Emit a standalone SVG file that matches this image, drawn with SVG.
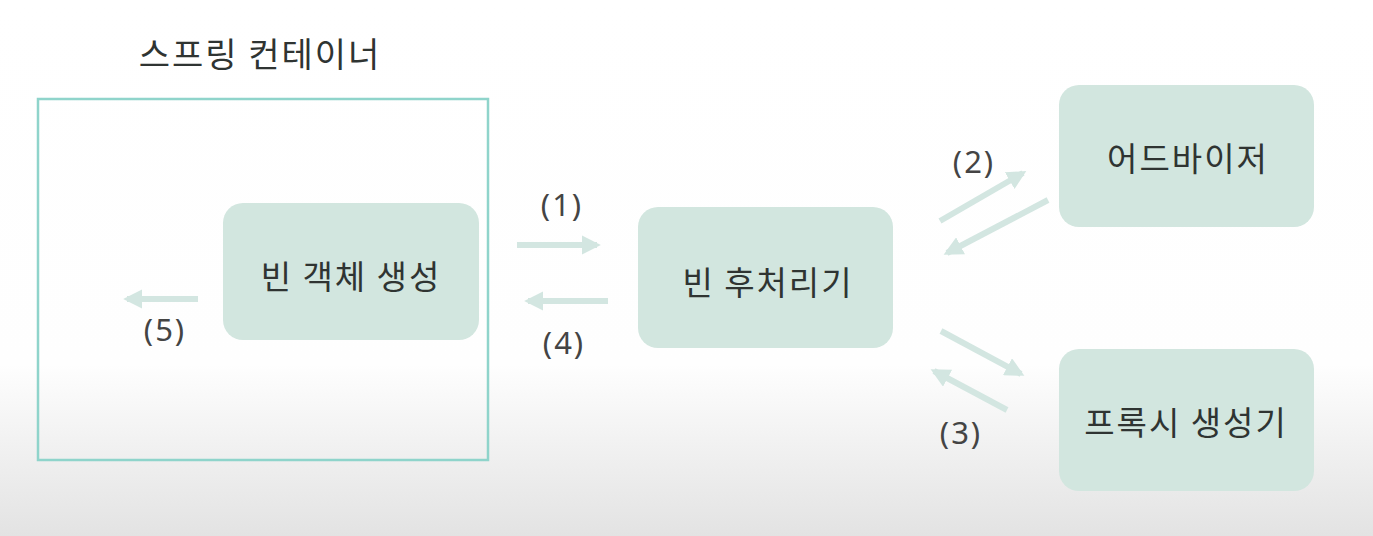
<svg xmlns="http://www.w3.org/2000/svg" width="1373" height="536" viewBox="0 0 1373 536">
<defs>
<linearGradient id="bg" x1="0" y1="0" x2="0" y2="1">
<stop offset="0" stop-color="#ffffff"/>
<stop offset="0.68" stop-color="#fefefe"/>
<stop offset="0.82" stop-color="#f2f2f2"/>
<stop offset="1" stop-color="#e3e3e3"/>
</linearGradient>
<marker id="ah" viewBox="0 0 10 10" refX="8" refY="5" markerWidth="3.2" markerHeight="3.2" orient="auto" markerUnits="strokeWidth">
<path d="M0,0 L10,5 L0,10 Z" fill="#d3e6e1"/>
</marker>
<style>
.node{fill:#d2e6df;}
.t{font-family:"Noto Sans CJK KR","Noto Sans",sans-serif;font-size:33px;font-weight:400;fill:#2f3432;text-anchor:middle;letter-spacing:2px;}
.lbl{font-family:"Noto Sans","Liberation Sans",sans-serif;font-size:31px;fill:#444;text-anchor:middle;letter-spacing:2px;}
.ar{stroke:#d3e6e1;stroke-width:6;fill:none;marker-end:url(#ah);}
</style>
</defs>
<rect x="0" y="0" width="1373" height="536" fill="url(#bg)"/>
<g id="container">
<rect x="38" y="99" width="450" height="361" fill="none" stroke="#8fd4cb" stroke-width="2.5"/>
<text class="t" x="260" y="67" style="font-size:34px">스프링 컨테이너</text>
</g>
<g id="bean-create">
<rect class="node" x="223" y="203" width="256" height="137" rx="20"/>
<text class="t" x="351" y="289">빈 객체 생성</text>
</g>
<g id="post-processor">
<rect class="node" x="638" y="207" width="255" height="141" rx="20"/>
<text class="t" x="768" y="295">빈 후처리기</text>
</g>
<g id="advisor">
<rect class="node" x="1059" y="85" width="255" height="142" rx="20"/>
<text class="t" x="1188" y="171">어드바이저</text>
</g>
<g id="proxy-creator">
<rect class="node" x="1059" y="349" width="255" height="142" rx="20"/>
<text class="t" x="1186" y="435">프록시 생성기</text>
</g>
<g id="connectors">
<line class="ar" x1="517" y1="245" x2="597" y2="245"/>
<text class="lbl" x="562" y="216">(1)</text>
<line class="ar" x1="608" y1="301" x2="528" y2="301"/>
<text class="lbl" x="564" y="354">(4)</text>
<line class="ar" x1="198" y1="299" x2="127" y2="299"/>
<text class="lbl" x="165" y="341">(5)</text>
<line class="ar" x1="940" y1="221" x2="1023" y2="173"/>
<line class="ar" x1="1048" y1="200" x2="947" y2="253"/>
<text class="lbl" x="974" y="173">(2)</text>
<line class="ar" x1="941" y1="331" x2="1021" y2="374"/>
<line class="ar" x1="1007" y1="410" x2="934" y2="371"/>
<text class="lbl" x="961" y="444">(3)</text>
</g>
</svg>
